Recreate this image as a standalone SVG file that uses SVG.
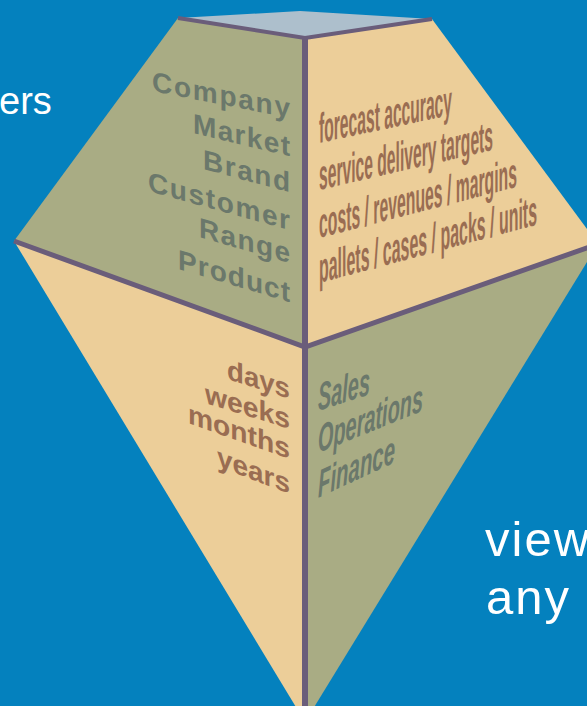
<svg xmlns="http://www.w3.org/2000/svg" width="587" height="706" viewBox="0 0 587 706">
<style>
.olive{fill:#a9ac84}
.tan{fill:#ecce99}
.top{fill:#adbfcc}
.edge{stroke:#6a5d7a;fill:none;stroke-linejoin:miter}
.lbl{font-family:"Liberation Sans",Arial,sans-serif;font-weight:bold;font-size:28px}
.gg{fill:#6b786b}
.br{fill:#9a6d52}
.cond{font-family:"Liberation Sans",Arial,sans-serif;font-weight:bold;font-size:42px}
.condi{font-family:"Liberation Sans",Arial,sans-serif;font-weight:bold;font-style:italic;font-size:39px}
.white{font-family:"Liberation Sans",Arial,sans-serif;fill:#ffffff}
</style>
<rect x="0" y="0" width="587" height="706" fill="#0481be"/>
<g id="bg-text">
<text class="white" x="-1" y="114" font-size="38">ers</text>
<text class="white" x="485" y="556" font-size="49" letter-spacing="2">view</text>
<text class="white" x="486" y="614" font-size="49" letter-spacing="2">any c</text>
</g>
<g id="top-face">
<polygon class="top" points="178,18 300,11 432,19 305,38"/>
</g>
<g id="hierarchy-face">
<polygon class="olive" points="178,18 305,38 305,347 14,241"/>
<g class="lbl gg">
<text transform="translate(152,91) skewY(11)" textLength="138" lengthAdjust="spacing">Company</text>
<text transform="translate(193,133) skewY(13.5)" textLength="97" lengthAdjust="spacing">Market</text>
<text transform="translate(203,169) skewY(15)" textLength="87" lengthAdjust="spacing">Brand</text>
<text transform="translate(148,191) skewY(15.5)" textLength="142" lengthAdjust="spacing">Customer</text>
<text transform="translate(199,237) skewY(16)" textLength="91" lengthAdjust="spacing">Range</text>
<text transform="translate(178,269) skewY(16.5)" textLength="112" lengthAdjust="spacing">Product</text>
</g>
</g>
<g id="measures-face">
<polygon class="tan" points="305,38 432,19 598,244 305,347"/>
<g class="cond br">
<text transform="translate(319,143) skewY(-12)" textLength="133" lengthAdjust="spacingAndGlyphs">forecast accuracy</text>
<text transform="translate(319,190) skewY(-13)" textLength="174" lengthAdjust="spacingAndGlyphs">service delivery targets</text>
<text transform="translate(319,238) skewY(-14.5)" textLength="198" lengthAdjust="spacingAndGlyphs">costs / revenues / margins</text>
<text transform="translate(319,283) skewY(-15)" textLength="218" lengthAdjust="spacingAndGlyphs">pallets / cases / packs / units</text>
</g>
</g>
<g id="time-face">
<polygon class="tan" points="14,241 305,347 305,722"/>
<g class="lbl br">
<text transform="translate(227,379) skewY(17.5)" textLength="63" lengthAdjust="spacingAndGlyphs">days</text>
<text transform="translate(205,403) skewY(17)" textLength="85" lengthAdjust="spacingAndGlyphs">weeks</text>
<text transform="translate(188,423) skewY(19.5)" textLength="102" lengthAdjust="spacingAndGlyphs">months</text>
<text transform="translate(217,466) skewY(21)" textLength="73" lengthAdjust="spacingAndGlyphs">years</text>
</g>
</g>
<g id="function-face">
<polygon class="olive" points="305,347 598,244 305,722"/>
<g class="condi gg">
<text transform="translate(318,411) skewY(-18)" textLength="52" lengthAdjust="spacingAndGlyphs">Sales</text>
<text transform="translate(318,453) skewY(-22)" textLength="105" lengthAdjust="spacingAndGlyphs">Operations</text>
<text transform="translate(318,498) skewY(-25)" textLength="77" lengthAdjust="spacingAndGlyphs">Finance</text>
</g>
</g>
<g id="connectors">
<polyline class="edge" stroke-width="4" points="178,18 305,38 432,19"/>
<polyline class="edge" stroke-width="5" points="14,241 305,347 598,244"/>
<line class="edge" stroke-width="6" x1="305" y1="37" x2="305" y2="706"/>
</g>
</svg>
